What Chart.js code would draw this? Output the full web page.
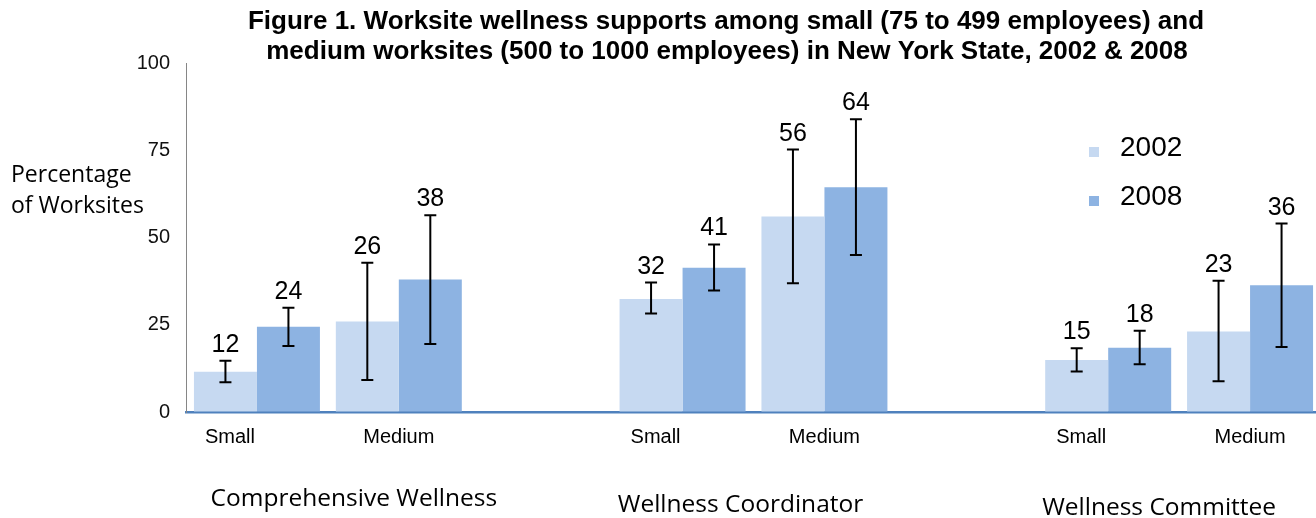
<!DOCTYPE html>
<html>
<head>
<meta charset="utf-8">
<script src="https://cdn.jsdelivr.net/npm/chart.js@4.4.1/dist/chart.umd.min.js"></script>
<style>
  html, body { margin: 0; padding: 0; background: #fff; overflow: hidden; }
  /* the original figure is cropped on the right, so the canvas runs a few px past the window */
  #wrap { width: 1321px; height: 518px; }
</style>
</head>
<body>
<div id="wrap"><canvas id="c"></canvas></div>
<script>
// categories, with empty slots as gaps between the three groups
const categories = ['Small', 'Medium', '', 'Small', 'Medium', '', 'Small', 'Medium'];
const groups = ['Comprehensive Wellness', 'Wellness Coordinator', 'Wellness Committee'];
const years = ['2002', '2008'];

const v2002  = [11.5, 25.9, null, 32.4, 56.0, null, 14.9, 23.1];
const v2008  = [24.4, 38.0, null, 41.3, 64.4, null, 18.4, 36.3];
const lo2002 = [8.5, 9.2, null, 28.2, 36.9, null, 11.6, 8.8];
const hi2002 = [14.7, 42.8, null, 37.1, 75.2, null, 18.3, 37.6];
const lo2008 = [18.9, 19.5, null, 34.8, 45.0, null, 13.7, 18.6];
const hi2008 = [29.9, 56.4, null, 48.0, 83.9, null, 23.3, 54.0];
const yTicks = [0, 25, 50, 75, 100];

const C02 = '#c6d9f1', C08 = '#8db3e2';
const ARIAL = '"Liberation Sans", Arial, sans-serif';
const CALIB = '"Open Sans", sans-serif';

const overlay = {
  id: 'overlay',
  afterDatasetsDraw(chart) {
    const ctx = chart.ctx, y = chart.scales.y;
    const err = [[lo2002, hi2002], [lo2008, hi2008]];
    const vals = [v2002, v2008];
    ctx.save();
    [0, 1].forEach(d => {
      const meta = chart.getDatasetMeta(d);
      vals[d].forEach((v, i) => {
        if (v == null) return;
        const x = meta.data[i].x;
        const yl = y.getPixelForValue(err[d][0][i]);
        const yh = y.getPixelForValue(err[d][1][i]);
        ctx.strokeStyle = '#000';
        ctx.lineWidth = 2;
        ctx.beginPath();
        ctx.moveTo(x, yl); ctx.lineTo(x, yh);
        ctx.moveTo(x - 6, yl); ctx.lineTo(x + 6, yl);
        ctx.moveTo(x - 6, yh); ctx.lineTo(x + 6, yh);
        ctx.stroke();
        ctx.fillStyle = '#000';
        ctx.font = '25px ' + ARIAL;
        ctx.textAlign = 'center';
        ctx.textBaseline = 'alphabetic';
        ctx.fillText(String(Math.round(v)), x, yh - 9);
      });
    });
    ctx.restore();
  },
  afterDraw(chart) {
    const ctx = chart.ctx, x = chart.scales.x;
    ctx.save();
    ctx.fillStyle = '#000';
    ctx.textBaseline = 'middle';

    // title
    ctx.font = 'bold 26px ' + ARIAL;
    ctx.textAlign = 'center';
    ctx.fillText('Figure 1. Worksite wellness supports among small (75 to 499 employees) and', 726, 22);
    ctx.fillText('medium worksites (500 to 1000 employees) in New York State, 2002 & 2008', 727, 52);

    // y axis title
    ctx.font = '23px ' + CALIB;
    ctx.textAlign = 'left';
    ctx.fillText('Percentage', 11, 175);
    ctx.fillText('of Worksites', 11, 206);

    // category labels
    ctx.font = '20px ' + ARIAL;
    ctx.textAlign = 'center';
    const shift = [-27, 0];
    categories.forEach((c, i) => {
      if (!c) return;
      ctx.fillText(c, x.getPixelForValue(i) + shift[i % 3], 437);
    });

    // group labels
    ctx.font = '24.5px ' + CALIB;
    const nudge = [26, -13, -20], gy = [499, 505, 508];
    groups.forEach((g, k) => {
      const mid = (x.getPixelForValue(k * 3) + x.getPixelForValue(k * 3 + 1)) / 2;
      ctx.fillText(g, mid + nudge[k], gy[k]);
    });

    // legend
    ctx.font = '28px ' + ARIAL;
    ctx.textAlign = 'left';
    [C02, C08].forEach((col, k) => {
      const ly = 152 + k * 49;
      ctx.fillStyle = col;
      ctx.fillRect(1089, ly - 5, 10, 10);
      ctx.fillStyle = '#000';
      ctx.fillText(years[k], 1120, ly - 4);
    });
    ctx.restore();
  }
};

new Chart(document.getElementById('c'), {
  type: 'bar',
  data: {
    labels: categories,
    datasets: [
      { label: years[0], data: v2002, backgroundColor: C02, borderWidth: 0 },
      { label: years[1], data: v2008, backgroundColor: C08, borderWidth: 0 }
    ]
  },
  options: {
    responsive: true,
    maintainAspectRatio: false,
    animation: false,
    categoryPercentage: 0.888,
    barPercentage: 1.0,
    layout: { padding: { top: 63, right: 0, left: 0, bottom: 0 } },
    plugins: { legend: { display: false }, tooltip: { enabled: false } },
    scales: {
      x: {
        ticks: { display: false },
        grid: { drawOnChartArea: false, drawTicks: false },
        border: { color: '#4f81bd', width: 2.5 },
        afterFit: s => { s.height = 106; }
      },
      y: {
        min: 0, max: 100,
        afterBuildTicks: s => { s.ticks = yTicks.map(v => ({ value: v })); },
        ticks: { color: '#111', font: { family: ARIAL, size: 20 }, padding: 16 },
        grid: { drawOnChartArea: false, drawTicks: false },
        border: { color: '#868686', width: 1 },
        afterFit: s => { s.width = 186; }
      }
    }
  },
  plugins: [overlay]
});
</script>
</body>
</html>
